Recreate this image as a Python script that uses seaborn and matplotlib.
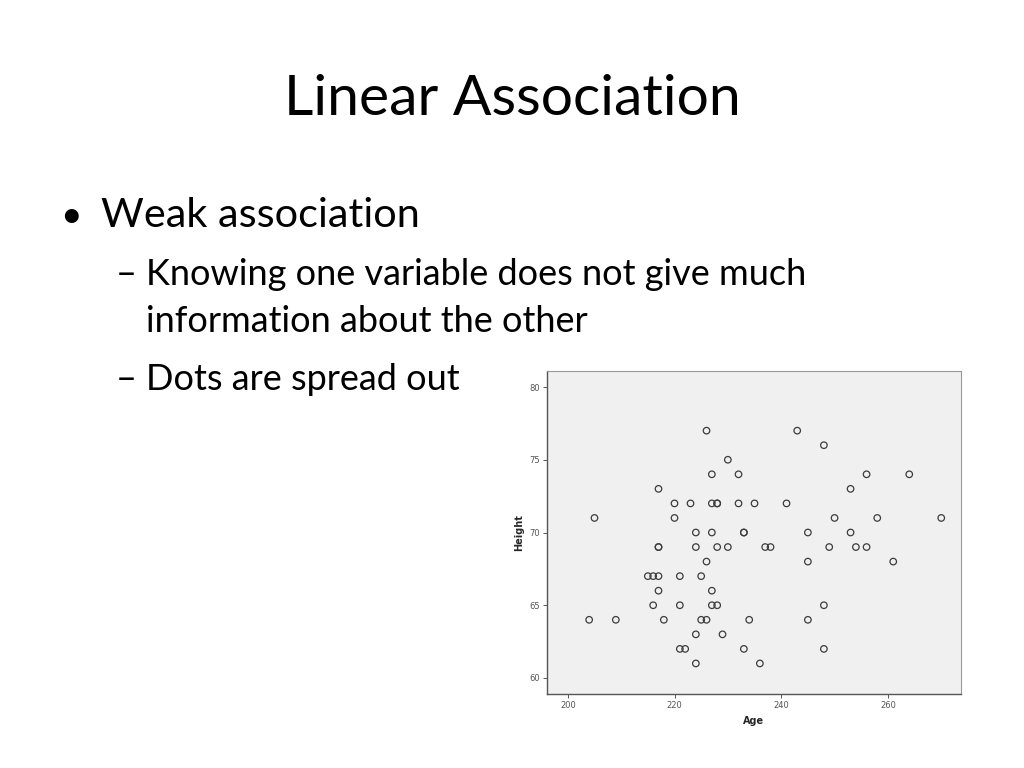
import matplotlib.pyplot as plt
import seaborn as sns
import pandas as pd

# Age / Height pairs (heights are whole inches)
age = [226, 243,
       248,
       230,
       227, 232, 256, 264,
       217, 253,
       220, 223, 227, 228, 228, 232, 235, 241,
       205, 220, 250, 258, 270,
       224, 227, 233, 233, 245, 253,
       217, 217, 224, 228, 230, 237, 238, 249, 254, 256,
       226, 245, 261,
       215, 216, 217, 221, 225,
       217, 227,
       216, 221, 227, 228, 248,
       204, 209, 218, 225, 226, 234, 245,
       224, 229,
       221, 222, 233, 248,
       224, 236]
height = [77, 77,
          76,
          75,
          74, 74, 74, 74,
          73, 73,
          72, 72, 72, 72, 72, 72, 72, 72,
          71, 71, 71, 71, 71,
          70, 70, 70, 70, 70, 70,
          69, 69, 69, 69, 69, 69, 69, 69, 69, 69,
          68, 68, 68,
          67, 67, 67, 67, 67,
          66, 66,
          65, 65, 65, 65, 65,
          64, 64, 64, 64, 64, 64, 64,
          63, 63,
          62, 62, 62, 62,
          61, 61]

x_ticks = [200, 220, 240, 260]
y_ticks = [60, 65, 70, 75, 80]

df = pd.DataFrame({'Age': age, 'Height': height})

sns.set_style('white')
plt.rcParams['font.family'] = ['Lato', 'DejaVu Sans']
plt.rcParams['text.color'] = 'black'

fig = plt.figure(figsize=(10.24, 7.68), dpi=100)

fig.text(0.5, 1 - 115 / 768, 'Linear Association', ha='center', va='baseline', fontsize=41)
fig.text(60 / 1024, 1 - 227 / 768, '•', ha='left', va='baseline', fontsize=27)
fig.text(101 / 1024, 1 - 227 / 768, 'Weak association', ha='left', va='baseline', fontsize=29.8)
fig.text(116 / 1024, 1 - 285 / 768, '–', ha='left', va='baseline', fontsize=26)
fig.text(146 / 1024, 1 - 285 / 768, 'Knowing one variable does not give much', ha='left', va='baseline', fontsize=26)
fig.text(146 / 1024, 1 - 332 / 768, 'information about the other', ha='left', va='baseline', fontsize=26)
fig.text(116 / 1024, 1 - 390 / 768, '–', ha='left', va='baseline', fontsize=26)
fig.text(146 / 1024, 1 - 390 / 768, 'Dots are spread out', ha='left', va='baseline', fontsize=26)

ax = fig.add_axes([547 / 1024, 1 - 694 / 768, 414 / 1024, 323 / 768])
ax.set_facecolor('#f0f0f0')
sns.scatterplot(data=df, x='Age', y='Height', ax=ax, s=22, facecolor='none',
                edgecolor='#3c3c3c', linewidth=0.9, marker='o')

ax.set_xlim(196.1, 273.7)
ax.set_ylim(58.9, 81.1)
ax.set_xticks(x_ticks)
ax.set_yticks(y_ticks)
ax.tick_params(axis='both', labelsize=6, colors='#555555', length=3, width=0.7, direction='out',
               bottom=True, left=True, pad=2)
ax.set_xlabel('Age', fontsize=7, fontweight='bold', family='DejaVu Sans', labelpad=4)
ax.set_ylabel('Height', fontsize=7, fontweight='bold', family='DejaVu Sans', labelpad=4)
for lab in ax.get_xticklabels() + ax.get_yticklabels():
    lab.set_family('DejaVu Sans')
for side in ['top', 'right']:
    ax.spines[side].set_color('#999999')
    ax.spines[side].set_linewidth(0.8)
for side in ['left', 'bottom']:
    ax.spines[side].set_color('#555555')
    ax.spines[side].set_linewidth(1.0)

fig.savefig('out.png', dpi=100)
